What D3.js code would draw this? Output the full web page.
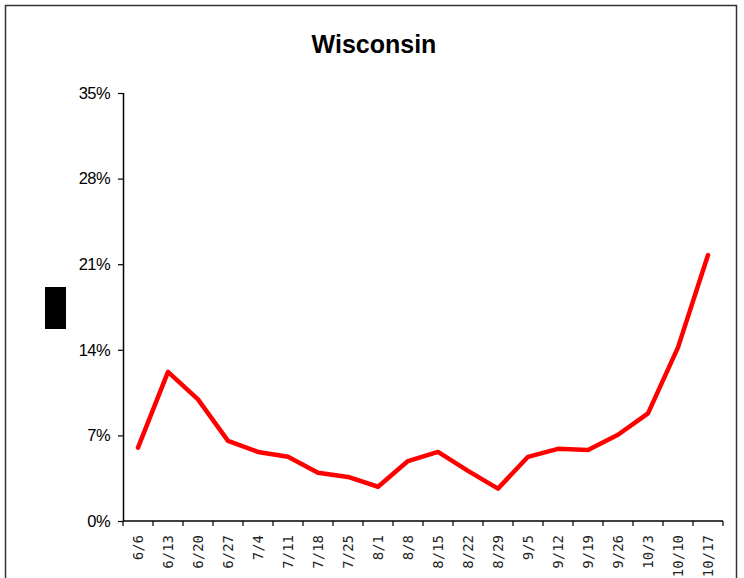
<!DOCTYPE html>
<html>
<head>
<meta charset="utf-8">
<script src="https://cdn.jsdelivr.net/npm/d3@7"></script>
<style>
  html, body { margin: 0; padding: 0; background: #fff; }
  svg { display: block; }
</style>
</head>
<body>
<svg id="chart" width="744" height="578"></svg>
<script>
const categories = ["6/6","6/13","6/20","6/27","7/4","7/11","7/18","7/25","8/1","8/8","8/15","8/22","8/29","9/5","9/12","9/19","9/26","10/3","10/10","10/17"];
const values = [6.0, 12.2, 9.95, 6.55, 5.65, 5.25, 3.95, 3.6, 2.8, 4.9, 5.65, 4.1, 2.65, 5.25, 5.9, 5.8, 7.05, 8.8, 14.2, 21.75];
const yTicks = [0, 7, 14, 21, 28, 35];
const title = "Wisconsin";

const svg = d3.select("#chart");
const margin = { left: 123, right: 21, top: 93, bottom: 57 };
const W = 744, H = 578;

// outer frame
svg.append("rect")
  .attr("x", 5.5).attr("y", 5.5)
  .attr("width", 731).attr("height", 620)
  .attr("fill", "none").attr("stroke", "#333").attr("stroke-width", 1.5);

svg.append("text")
  .attr("x", 374).attr("y", 52.5)
  .attr("text-anchor", "middle")
  .style("font-family", "'Liberation Sans', Arial, sans-serif")
  .style("font-weight", "bold")
  .style("font-size", "25px")
  .text(title);

const x = d3.scaleBand().domain(categories)
  .range([margin.left, W - margin.right]).paddingInner(0).paddingOuter(0);
const y = d3.scaleLinear().domain([0, 35]).range([H - margin.bottom, margin.top]);

// y axis
const yAxis = svg.append("g")
  .attr("transform", `translate(${margin.left},0)`)
  .call(d3.axisLeft(y).tickValues(yTicks).tickFormat(d => d + "%").tickSize(5).tickPadding(8));
yAxis.select(".domain").attr("stroke", "#000").attr("stroke-width", 1.5).attr("d", `M0.5,${y(35)}V${y(0)}`);
yAxis.selectAll(".tick line").attr("stroke", "#000").attr("stroke-width", 1.2);
yAxis.selectAll(".tick text")
  .style("font-family", "'Liberation Sans', Arial, sans-serif")
  .style("font-size", "16.5px")
  .style("letter-spacing", "-0.6px")
  .attr("fill", "#000");

// x axis line + ticks at band boundaries
const xg = svg.append("g");
const y0 = y(0);
xg.append("line")
  .attr("x1", x.range()[0]).attr("x2", x.range()[1])
  .attr("y1", y0).attr("y2", y0)
  .attr("stroke", "#000").attr("stroke-width", 1.5);
const bounds = categories.map(c => x(c)).concat([x.range()[1]]);
xg.selectAll("line.tk").data(bounds).join("line")
  .attr("class", "tk")
  .attr("x1", d => d).attr("x2", d => d)
  .attr("y1", y0).attr("y2", y0 + 5)
  .attr("stroke", "#000").attr("stroke-width", 1.2);
xg.selectAll("text").data(categories).join("text")
  .attr("transform", d => `translate(${x(d) + x.bandwidth() / 2 + 5},${y0 + 14}) rotate(-90)`)
  .attr("text-anchor", "end")
  .style("font-family", "'DejaVu Sans Mono', monospace")
  .style("font-size", "14px")
  .attr("fill", "#222")
  .text(d => d);

// line
const line = d3.line()
  .x((d, i) => x(categories[i]) + x.bandwidth() / 2)
  .y(d => y(d));
svg.append("path")
  .datum(values)
  .attr("d", line)
  .attr("fill", "none")
  .attr("stroke", "#ff0000")
  .attr("stroke-width", 4.5)
  .attr("stroke-linejoin", "round")
  .attr("stroke-linecap", "round");

// redaction box
svg.append("rect")
  .attr("x", 45).attr("y", 287).attr("width", 21).attr("height", 42)
  .attr("fill", "#000");
</script>
</body>
</html>
